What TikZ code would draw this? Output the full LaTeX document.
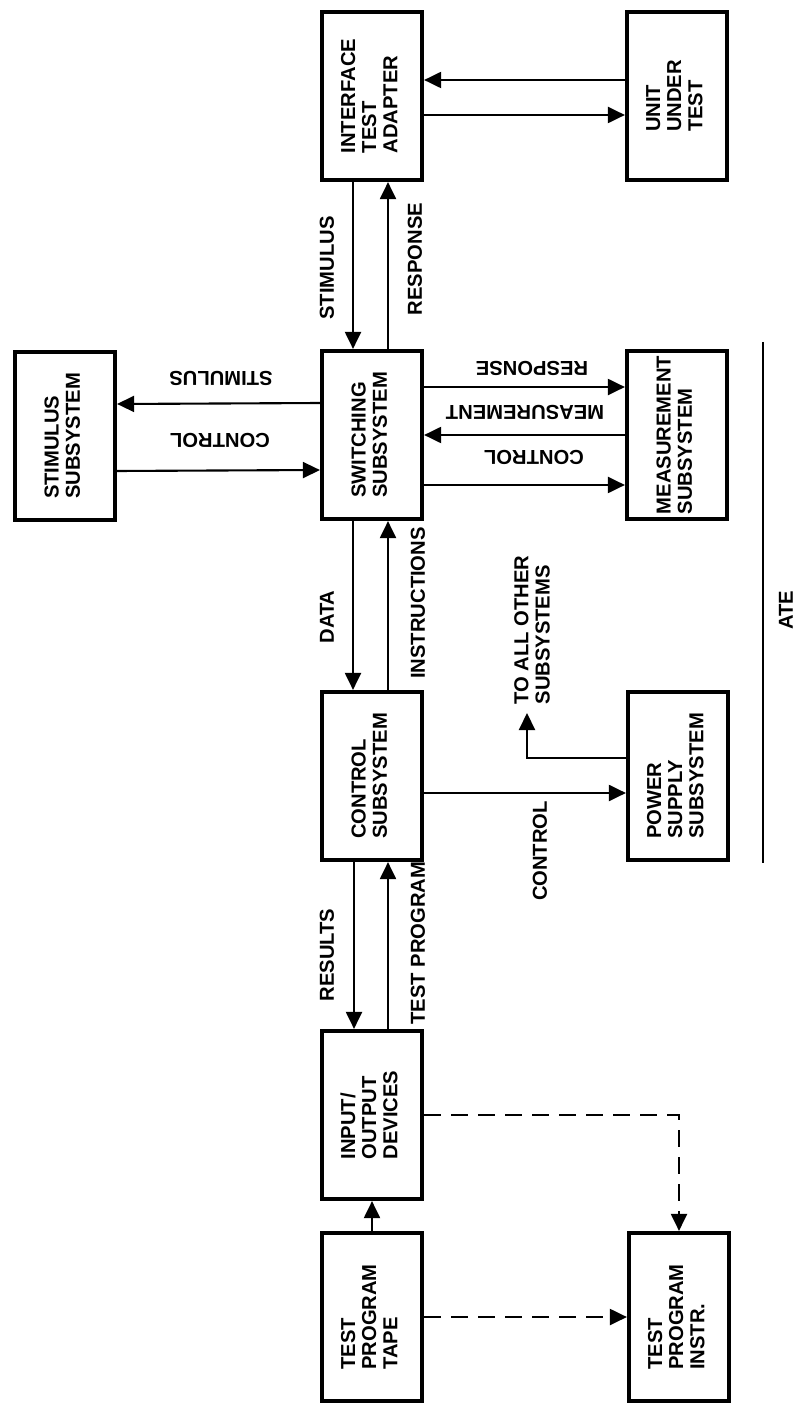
\documentclass[tikz,border=0pt]{standalone}
\usepackage{fontspec}
\setmainfont{Liberation Sans}
\usetikzlibrary{arrows.meta, calc}

\newcommand{\sidetext}[1]{\rotatebox{90}{\begin{tabular}{@{}l@{}}#1\end{tabular}}}

\begin{document}
\begin{tikzpicture}[
            x=0.02cm, y=-0.02cm,
            subsys/.style={draw, line width=2.4pt, minimum width=2cm, minimum height=3.36cm,
                inner sep=0pt, font=\bfseries\fontsize{11.5}{12}\selectfont},
            flow/.style={line width=1.2pt, -{Triangle[length=0.34cm, width=0.32cm]}},
            dflow/.style={flow, dash pattern=on 0.34cm off 0.2cm},
            tag/.style={font=\bfseries\fontsize{11.5}{12}\selectfont, rotate=90, align=left, inner sep=0pt},
            flipped/.style={font=\bfseries\fontsize{11.5}{12}\selectfont, rotate=180, inner sep=0pt}
        ]

            \useasboundingbox (0,0) rectangle (797,1405);

            % blocks
            \node[subsys] (stim) at (65,436)  {\sidetext{STIMULUS\\SUBSYSTEM}};
            \node[subsys] (ita)  at (372,96)  {\sidetext{INTERFACE\\TEST\\ADAPTER}};
            \node[subsys] (sw)   at (372,435) {\sidetext{SWITCHING\\SUBSYSTEM}};
            \node[subsys] (ctl)  at (372,776) {\sidetext{CONTROL\\SUBSYSTEM}};
            \node[subsys] (io)   at (372,1115) {\sidetext{INPUT/\\OUTPUT\\DEVICES}};
            \node[subsys] (tape) at (372,1317) {\sidetext{TEST\\PROGRAM\\TAPE}};
            \node[subsys] (uut)  at (677,96)  {\sidetext{UNIT\\UNDER\\TEST}};
            \node[subsys] (meas) at (677,435) {\sidetext{MEASUREMENT\\SUBSYSTEM}};
            \node[subsys] (psu)  at (678,776) {\sidetext{POWER\\SUPPLY\\SUBSYSTEM}};
            \node[subsys] (tpi)  at (679,1317) {\sidetext{TEST\\PROGRAM\\INSTR.}};

            % vertical pairs
            \draw[flow] ([xshift=-0.38cm]ita.south) -- ([xshift=-0.38cm]sw.north);
            \draw[flow] ([xshift=0.32cm]sw.north) -- ([xshift=0.32cm]ita.south);
            \draw[flow] ([xshift=-0.38cm]sw.south) -- ([xshift=-0.38cm]ctl.north);
            \draw[flow] ([xshift=0.32cm]ctl.north) -- ([xshift=0.32cm]sw.south);
            \draw[flow] ([xshift=-0.36cm]ctl.south) -- ([xshift=-0.36cm]io.north);
            \draw[flow] ([xshift=0.32cm]io.north) -- ([xshift=0.32cm]ctl.south);
            \draw[flow] (tape.north) -- (io.south);

            % horizontal pairs
            \draw[flow] ([yshift=0.32cm]uut.west) -- ([yshift=0.32cm]ita.east);
            \draw[flow] ([yshift=-0.38cm]ita.east) -- ([yshift=-0.38cm]uut.west);
            \draw[flow] ([yshift=0.64cm]sw.west) -- ([yshift=0.64cm]stim.east);
            \draw[flow] ([yshift=-0.7cm]stim.east) -- ([yshift=-0.7cm]sw.west);
            \draw[flow] ([yshift=0.96cm]sw.east) -- ([yshift=0.96cm]meas.west);
            \draw[flow] (meas.west) -- (sw.east);
            \draw[flow] ([yshift=-1cm]sw.east) -- ([yshift=-1cm]meas.west);
            \draw[flow] ([yshift=-0.34cm]ctl.east) -- ([yshift=-0.34cm]psu.west);

            \coordinate (others) at (527,713);
            \draw[flow] ([yshift=0.36cm]psu.west) -| (others);

            \draw[dflow] (io.east) -| (tpi.north);
            \draw[dflow] (tape.east) -- (tpi.west);

            % labels
            \node[tag] (lstim) at (327,268) {STIMULUS};
            \node[tag] (lresp) at (415,259) {RESPONSE};
            \node[tag] (ldata) at (327,617) {DATA};
            \node[tag] (linst) at (418,603) {INSTRUCTIONS};
            \node[tag] (lres)  at (327,955) {RESULTS};
            \node[tag] (ltp)   at (418,943) {TEST PROGRAM};
            \node[tag] (lpctl) at (540,851) {CONTROL};
            \node[tag] (loth)  at (532,630) {TO ALL OTHER\\SUBSYSTEMS};
            \node[flipped] (lsst) at (221,378) {STIMULUS};
            \node[flipped] (lsct) at (220,440) {CONTROL};
            \node[flipped] (lmrs) at (532,368) {RESPONSE};
            \node[flipped] (lmms) at (525,412) {MEASUREMENT};
            \node[flipped] (lmct) at (534,457) {CONTROL};

            % ATE bracket
            \draw[line width=1.2pt] (763,342) coordinate (ateA) -- (763,863) coordinate (ateB);
            \node[tag] (ate) at (786,610) {ATE};

        \end{tikzpicture}
\end{document}
